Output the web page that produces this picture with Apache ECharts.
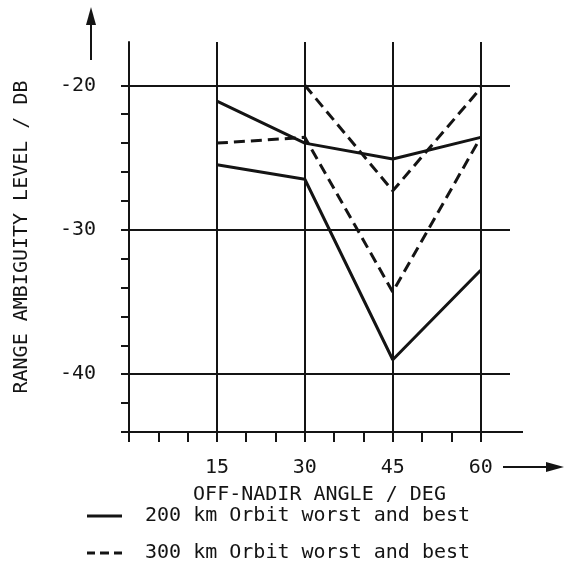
<!DOCTYPE html>
<html>
<head>
<meta charset="utf-8">
<script src="https://cdn.jsdelivr.net/npm/echarts@6/dist/echarts.min.js"></script>
<style>
html, body { margin: 0; padding: 0; background: #fff; }
#chart { width: 565px; height: 564px; }
</style>
</head>
<body>
<div id="chart"></div>
<script>
// off-nadir angle (deg)
var angles = [15, 30, 45, 60];
// 200 km orbit, worst and best
var orbit200Worst = [-21.1, -24.0, -25.1, -23.6];
var orbit200Best = [-25.5, -26.5, -39.0, -32.8];
// 300 km orbit, worst and best
var orbit300Worst = [null, -20.0, -27.3, -20.2];
var orbit300Best = [-24.0, -23.6, -34.3, -23.6];
// ticks, labels, gridlines
var xTicks = [0, 5, 10, 15, 20, 25, 30, 35, 40, 45, 50, 55, 60];
var xLabels = [15, 30, 45, 60];
var yTicks = [-44, -42, -40, -38, -36, -34, -32, -30, -28, -26, -24, -22, -20];
var yLabels = [-40, -30, -20];

var ink = '#141414';
var font = 'DejaVu Sans Mono';
var name200 = '200 km Orbit worst and best';
var name300 = '300 km Orbit worst and best';

function pairs(vals) {
	return angles.map(function(a, i) { return [a, vals[i]]; });
}

var chart = echarts.init(document.getElementById('chart'));

var gridLines = [];
yLabels.forEach(function(v) { gridLines.push({yAxis: v}); });
xLabels.forEach(function(v) { gridLines.push({xAxis: v}); });

var legendText = {color: ink, fontFamily: font, fontSize: 20, padding: [0, 0, 0, 18]};

var option = {
	backgroundColor: '#fff',
	animation: false,
	grid: {
		left: 129,
		right: 55,
		top: 42,
		bottom: 132,
		containLabel: false,
		outerBoundsMode: 'none'
	},
	xAxis: {
		type: 'value',
		min: 0,
		max: 65,
		name: 'OFF-NADIR ANGLE / DEG',
		nameLocation: 'middle',
		nameGap: 53,
		nameTextStyle: {color: ink, fontFamily: font, fontSize: 20},
		axisLine: {show: true, lineStyle: {color: ink, width: 2}},
		axisTick: {show: true, inside: false, length: 10, customValues: xTicks, lineStyle: {color: ink, width: 2}},
		axisLabel: {
			margin: 26,
			color: ink,
			fontFamily: font,
			fontSize: 20,
			customValues: xLabels
		},
		splitLine: {show: false}
	},
	yAxis: {
		type: 'value',
		min: -44,
		max: -17,
		name: 'RANGE AMBIGUITY LEVEL / DB',
		nameLocation: 'middle',
		nameRotate: 90,
		nameGap: 97,
		nameTextStyle: {color: ink, fontFamily: font, fontSize: 20},
		axisLine: {show: true, lineStyle: {color: ink, width: 2}},
		axisTick: {show: true, inside: false, length: 8, customValues: yTicks, lineStyle: {color: ink, width: 2}},
		axisLabel: {
			margin: 33,
			color: ink,
			fontFamily: font,
			fontSize: 20,
			customValues: yLabels
		},
		splitLine: {show: false}
	},
	legend: [{
		left: 87,
		top: 506,
		padding: 0,
		itemWidth: 35,
		itemHeight: 3,
		textStyle: legendText,
		data: [{name: name200, icon: 'rect', itemStyle: {color: ink}}]
	}, {
		left: 87,
		top: 543,
		padding: 0,
		itemWidth: 35,
		itemHeight: 3,
		textStyle: legendText,
		data: [{
			name: name300,
			icon: 'path://M0,0h8v3h-8z M13,0h9v3h-9z M27,0h8v3h-8z',
			itemStyle: {color: ink}
		}]
	}],
	graphic: [
		// arrow beside the y axis
		{type: 'line', shape: {x1: 91, y1: 60, x2: 91, y2: 20}, style: {stroke: ink, lineWidth: 2}},
		{type: 'polygon', shape: {points: [[91, 7], [86, 25], [96, 25]]}, style: {fill: ink}},
		// arrow after the x tick labels
		{type: 'line', shape: {x1: 503, y1: 467, x2: 550, y2: 467}, style: {stroke: ink, lineWidth: 2}},
		{type: 'polygon', shape: {points: [[564, 467], [546, 462], [546, 472]]}, style: {fill: ink}},
		// x axis line runs past the last tick
		{type: 'line', shape: {x1: 510, y1: 432, x2: 523, y2: 432}, style: {stroke: ink, lineWidth: 2}}
	],
	series: [
		{
			name: name200,
			type: 'line',
			data: pairs(orbit200Worst),
			symbol: 'none',
			lineStyle: {color: ink, width: 3, type: 'solid'},
			itemStyle: {color: ink},
			markLine: {
				silent: true,
				symbol: 'none',
				label: {show: false},
				lineStyle: {color: ink, width: 2, type: 'solid'},
				data: gridLines
			}
		},
		{
			name: name200,
			type: 'line',
			data: pairs(orbit200Best),
			symbol: 'none',
			lineStyle: {color: ink, width: 3, type: 'solid'},
			itemStyle: {color: ink}
		},
		{
			name: name300,
			type: 'line',
			data: pairs(orbit300Worst),
			symbol: 'none',
			lineStyle: {color: ink, width: 3, type: [11, 6]},
			itemStyle: {color: ink}
		},
		{
			name: name300,
			type: 'line',
			data: pairs(orbit300Best),
			symbol: 'none',
			lineStyle: {color: ink, width: 3, type: [11, 6]},
			itemStyle: {color: ink}
		}
	]
};

chart.setOption(option);
</script>
</body>
</html>
